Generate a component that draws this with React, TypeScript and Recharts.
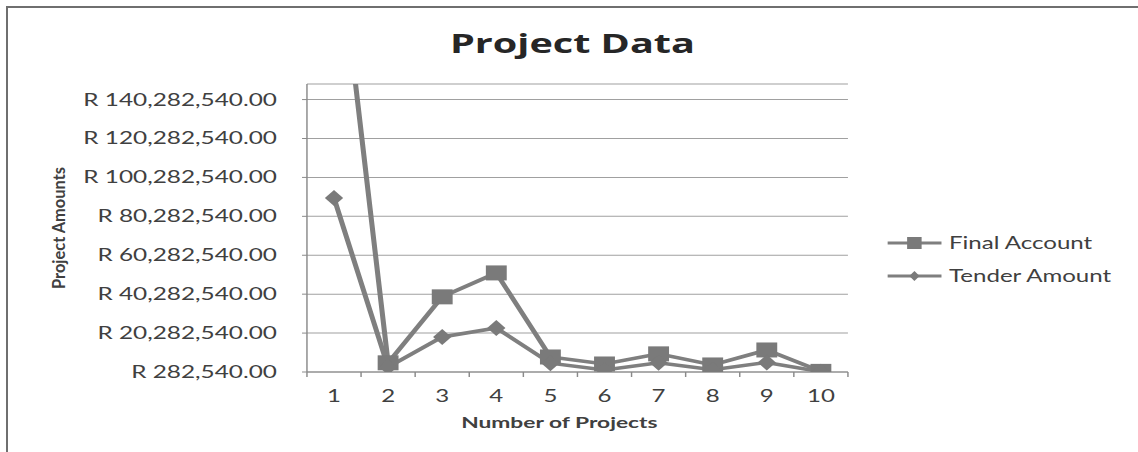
import { CartesianGrid, Label, Legend, Line, LineChart, XAxis, YAxis } from "recharts";

// The reference is a horizontally stretched Excel export, so the chart is laid
// out at 1/STRETCH width and scaled back up with a CSS transform.
const STRETCH = 1.45;
const W = 1138 / STRETCH;
const H = 452;

const projects = [1, 2, 3, 4, 5, 6, 7, 8, 9, 10];
const finalAccount = [243000000, 5000000, 38900000, 51200000, 8000000, 4400000, 9600000, 3900000, 11600000, 600000];
const tenderAmount = [89700000, 2800000, 18300000, 22900000, 4800000, 1300000, 5000000, 1500000, 5200000, 400000];
const yTicks = [282540, 20282540, 40282540, 60282540, 80282540, 100282540, 120282540, 140282540];
const yMax = 148282540;

const LINE = "#7f7f7f";
const MARK = "#7a7a7a";
const AXIS = "#8a8a8a";
const GRID = "#a0a0a0";
const TEXT = "#404040";
const FONT = "Lato, 'Open Sans', sans-serif";

const data = projects.map((p, i) => ({ project: p, final: finalAccount[i], tender: tenderAmount[i] }));
// labels sit on the categories, tick marks sit between them (Excel category axis)
const xTicks = [...projects, ...projects.map((p) => p - 0.5), projects[projects.length - 1] + 0.5].sort((a, b) => a - b);

const money = (v: number) =>
  "R " + v.toLocaleString("en-US", { minimumFractionDigits: 2, maximumFractionDigits: 2 });

function XTick({ x, y, payload }: any) {
  const v = payload.value;
  if (!Number.isInteger(v)) {
    return <line x1={x} x2={x} y1={y - 18} y2={y - 13} stroke={AXIS} />;
  }
  return (
    <text x={x} y={y} dy="0.71em" textAnchor="middle" fill={TEXT} fontSize={16.6} fontFamily={FONT}>
      {v}
    </text>
  );
}

function squareDot(props: any) {
  const { cx, cy, index } = props;
  if (cx == null || cy == null) return <g key={index} />;
  return <rect key={index} x={cx - 7.2} y={cy - 7.5} width={14.4} height={15} fill={MARK} />;
}

function diamondDot(props: any) {
  const { cx, cy, index } = props;
  if (cx == null || cy == null) return <g key={index} />;
  return (
    <polygon
      key={index}
      points={`${cx},${cy - 8} ${cx + 6.3},${cy} ${cx},${cy + 8} ${cx - 6.3},${cy}`}
      fill={MARK}
    />
  );
}

function YTitle({ viewBox }: any) {
  const cy = viewBox.y + viewBox.height / 2;
  return (
    <text
      transform={`translate(40.7 ${cy}) rotate(-90)`}
      textAnchor="middle"
      dominantBaseline="central"
      textLength={122}
      lengthAdjust="spacingAndGlyphs"
      fontSize={11.5}
      fontWeight={700}
      fontFamily={FONT}
      fill={TEXT}
    >
      Project Amounts
    </text>
  );
}

function renderLegend(props: any) {
  const items = props.payload ?? [];
  return (
    <div style={{ fontFamily: FONT, fontSize: 16.6, color: TEXT }}>
      {items.map((entry: any) => (
        <div key={entry.value} style={{ display: "flex", alignItems: "center", height: 33 }}>
          <svg width={37.3} height={16} style={{ display: "block" }}>
            <line x1={0} x2={37.3} y1={8} y2={8} stroke={LINE} strokeWidth={3} />
            {entry.dataKey === "final" ? (
              <rect x={13.6} y={2} width={10} height={12} fill={MARK} />
            ) : (
              <polygon points="18.65,3 22.2,8 18.65,13 15.1,8" fill={MARK} />
            )}
          </svg>
          <span style={{ marginLeft: 4.8, lineHeight: "33px", whiteSpace: "nowrap" }}>{entry.value}</span>
        </div>
      ))}
    </div>
  );
}

export default function App() {
  return (
    <div style={{ position: "absolute", left: 0, top: 0, width: 1138, height: H, overflow: "hidden", background: "#fff" }}>
      <div
        style={{
          position: "absolute",
          left: 6,
          top: 6,
          width: 1200,
          height: 500,
          borderLeft: "2px solid #6f6f6f",
          borderTop: "2px solid #6f6f6f",
        }}
      />
      <div
        style={{
          position: "absolute",
          left: 0,
          top: 0,
          width: W,
          height: H,
          transform: `scaleX(${STRETCH})`,
          transformOrigin: "0 0",
        }}
      >
        <div
          style={{
            position: "absolute",
            left: 394.8 - 200,
            width: 400,
            top: 28,
            textAlign: "center",
            fontFamily: "'Open Sans', sans-serif",
            fontWeight: 700,
            fontSize: 27.3,
            lineHeight: "30px",
            color: "#262626",
          }}
        >
          Project Data
        </div>
        <LineChart width={W} height={H} data={data} margin={{ top: 84, right: W - 584.8, bottom: 0, left: 0 }}>
          <CartesianGrid vertical={false} stroke={GRID} />
          <XAxis
            dataKey="project"
            type="number"
            domain={[0.5, 10.5]}
            ticks={xTicks}
            interval={0}
            height={80}
            tickSize={5}
            tickMargin={13}
            tickLine={false}
            axisLine={{ stroke: AXIS }}
            tick={<XTick />}
          >
            <Label
              value="Number of Projects"
              position="insideBottom"
              offset={23.5}
              dx={-12.5}
              fill={TEXT}
              fontSize={15.7}
              fontWeight={700}
              fontFamily={FONT}
            />
          </XAxis>
          <YAxis
            type="number"
            domain={[yTicks[0], yMax]}
            ticks={yTicks}
            allowDataOverflow
            interval={0}
            width={211.7}
            tickSize={3.4}
            tickMargin={17.3}
            tickFormatter={money}
            tick={{ fill: TEXT, fontSize: 16.8, fontFamily: FONT }}
            axisLine={{ stroke: AXIS }}
            tickLine={{ stroke: AXIS }}
          >
            <Label content={<YTitle />} />
          </YAxis>
          <Legend
            layout="horizontal"
            verticalAlign="middle"
            align="center"
            wrapperStyle={{ left: 612.4, top: 226.5, width: 170 }}
            content={renderLegend}
          />
          <Line
            dataKey="final"
            name="Final Account"
            type="linear"
            stroke={LINE}
            strokeWidth={3.5}
            dot={squareDot}
            activeDot={false}
            isAnimationActive={false}
          />
          <Line
            dataKey="tender"
            name="Tender Amount"
            type="linear"
            stroke={LINE}
            strokeWidth={3.5}
            dot={diamondDot}
            activeDot={false}
            isAnimationActive={false}
          />
        </LineChart>
      </div>
    </div>
  );
}
